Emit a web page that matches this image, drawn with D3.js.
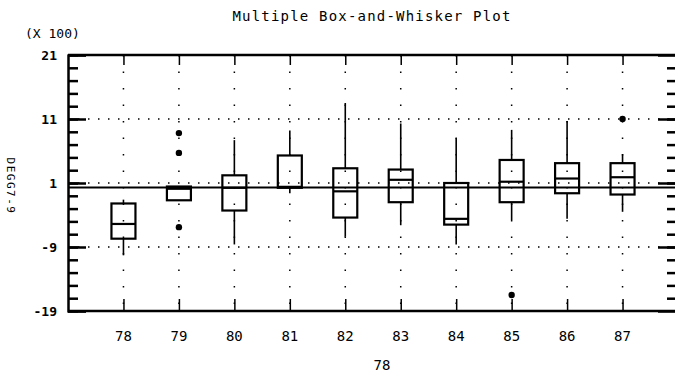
<!DOCTYPE html>
<html><head><meta charset="utf-8">
<script src="https://cdn.jsdelivr.net/npm/d3@7"></script>
<style>body{margin:0;background:#fff}svg{display:block}text{font-family:"DejaVu Sans Mono",monospace;fill:#000}</style>
</head><body><svg id="c" width="675" height="377"></svg>
<script>
const years = [78,79,80,81,82,83,84,85,86,87];
const whiskerLow  = [-10.3,-1.7,-8.6,-0.6,-7.4,-5.6,-8.6,-4.8,-4.6,-3.5];
const q1          = [-7.7,-1.7,-3.3,0.25,-4.4,-2.0,-5.5,-2.0,-0.6,-0.8];
const median      = [-5.4,0.1,0.25,0.4,-0.3,1.5,-4.6,1.2,1.7,1.9];
const q3          = [-2.2,0.45,2.2,5.3,3.3,3.1,1.0,4.6,4.1,4.1];
const whiskerHigh = [-1.6,0.45,7.7,9.2,13.5,10.3,8.0,9.3,10.7,5.5];
const outlierYear = [79,79,79,85,87];
const outlierVal  = [8.8,5.7,-5.9,-16.5,11.0];
const yTicks = [21,11,1,-9,-19];
const refLine = 0.3;
const title = "Multiple Box-and-Whisker Plot";
const yScaleNote = "(X 100)";
const xTitle = "78";
const yTitle = "DEGG7-9";

const svg = d3.select("#c");
const L = 68, R = 678, T = 55, B = 311;
const x = d3.scaleLinear().domain([77,88]).range([L,R]);
const y = d3.scaleLinear().domain([-19,21]).range([B,T]);

// dotted grid
const g = svg.append("g");
g.selectAll("line.h").data(yTicks.filter(v=>v!==21&&v!==-19)).join("line")
  .attr("x1",L).attr("x2",R).attr("y1",d=>y(d)).attr("y2",d=>y(d))
  .attr("stroke","#000").attr("stroke-width",1.5).attr("stroke-dasharray","1.5,8.5");
g.selectAll("line.v").data(years).join("line")
  .attr("x1",d=>x(d)).attr("x2",d=>x(d)).attr("y1",T).attr("y2",B)
  .attr("stroke","#000").attr("stroke-width",1.5).attr("stroke-dasharray","1.5,15");

// axes
const minor = d3.range(-17,21,2);
const yAxisL = d3.axisRight(y).tickValues(minor).tickSize(10).tickFormat("");
const yAxisL2 = d3.axisRight(y).tickValues(yTicks).tickSize(18).tickFormat("");
const gl = svg.append("g").attr("transform",`translate(${L},0)`);
gl.call(yAxisL); gl.append("g").call(yAxisL2);
gl.selectAll("line").attr("stroke-width",2.5);
gl.selectAll(".domain").attr("stroke-width",2);
const gr = svg.append("g").attr("transform",`translate(676,0)`);
gr.call(d3.axisLeft(y).tickValues(minor).tickSize(9).tickFormat(""));
gr.append("g").call(d3.axisLeft(y).tickValues(yTicks).tickSize(18).tickFormat(""));
gr.selectAll("line").attr("stroke-width",2.5);
gr.selectAll(".domain").remove();

const gb = svg.append("g").attr("transform",`translate(0,${B})`);
gb.call(d3.axisTop(x).tickValues(years).tickSize(12).tickFormat(""));
gb.selectAll("line").attr("stroke-width",1.5);
gb.select(".domain").remove();
const gt = svg.append("g").attr("transform",`translate(0,${T})`);
gt.call(d3.axisBottom(x).tickValues(years).tickSize(10).tickFormat(""));
gt.selectAll("line").attr("stroke-width",1.5);
gt.select(".domain").remove();

svg.append("line").attr("x1",L).attr("x2",675).attr("y1",T).attr("y2",T).attr("stroke","#000").attr("stroke-width",2.5);
svg.append("line").attr("x1",L).attr("x2",675).attr("y1",B).attr("y2",B).attr("stroke","#000").attr("stroke-width",2.5);

// tick labels
svg.selectAll("text.yl").data(yTicks).join("text")
  .attr("x",57).attr("y",d=>y(d)).attr("dy","0.35em").attr("text-anchor","end")
  .attr("font-size",13).attr("font-weight","bold").text(d=>d);
svg.selectAll("text.xl").data(years).join("text")
  .attr("x",d=>x(d)).attr("y",336).attr("dy","0.35em").attr("text-anchor","middle")
  .attr("font-size",14).text(d=>d);

// reference line
svg.append("line").attr("x1",L).attr("x2",675).attr("y1",y(refLine)).attr("y2",y(refLine))
  .attr("stroke","#000").attr("stroke-width",1.8);

// boxes
const bw = 24;
const bx = svg.append("g");
years.forEach((yr,i)=>{
  const cx = x(yr);
  bx.append("line").attr("x1",cx).attr("x2",cx).attr("y1",y(q3[i])).attr("y2",y(whiskerHigh[i])).attr("stroke","#000").attr("stroke-width",1.6);
  bx.append("line").attr("x1",cx).attr("x2",cx).attr("y1",y(q1[i])).attr("y2",y(whiskerLow[i])).attr("stroke","#000").attr("stroke-width",1.6);
  bx.append("rect").attr("x",cx-bw/2).attr("width",bw).attr("y",y(q3[i])).attr("height",y(q1[i])-y(q3[i]))
    .attr("fill","none").attr("stroke","#000").attr("stroke-width",2.2);
  bx.append("line").attr("x1",cx-bw/2).attr("x2",cx+bw/2).attr("y1",y(median[i])).attr("y2",y(median[i])).attr("stroke","#000").attr("stroke-width",2.2);
});
bx.selectAll("circle").data(outlierVal).join("circle")
  .attr("cx",(d,i)=>x(outlierYear[i])).attr("cy",d=>y(d)).attr("r",3.2).attr("fill","#000");

// titles
svg.append("text").attr("x",372).attr("y",16).attr("dy","0.35em").attr("text-anchor","middle")
  .attr("font-size",14).attr("letter-spacing",1.2).text(title);
svg.append("text").attr("x",25).attr("y",33).attr("dy","0.35em").attr("font-size",13).text(yScaleNote);
svg.append("text").attr("x",382).attr("y",365).attr("dy","0.35em").attr("text-anchor","middle").attr("font-size",14).text(xTitle);
svg.append("text").attr("transform","translate(11,186) rotate(90)").attr("text-anchor","middle").attr("dy","0.35em")
  .attr("font-size",11).attr("letter-spacing",1.5).text(yTitle);
</script></body></html>
